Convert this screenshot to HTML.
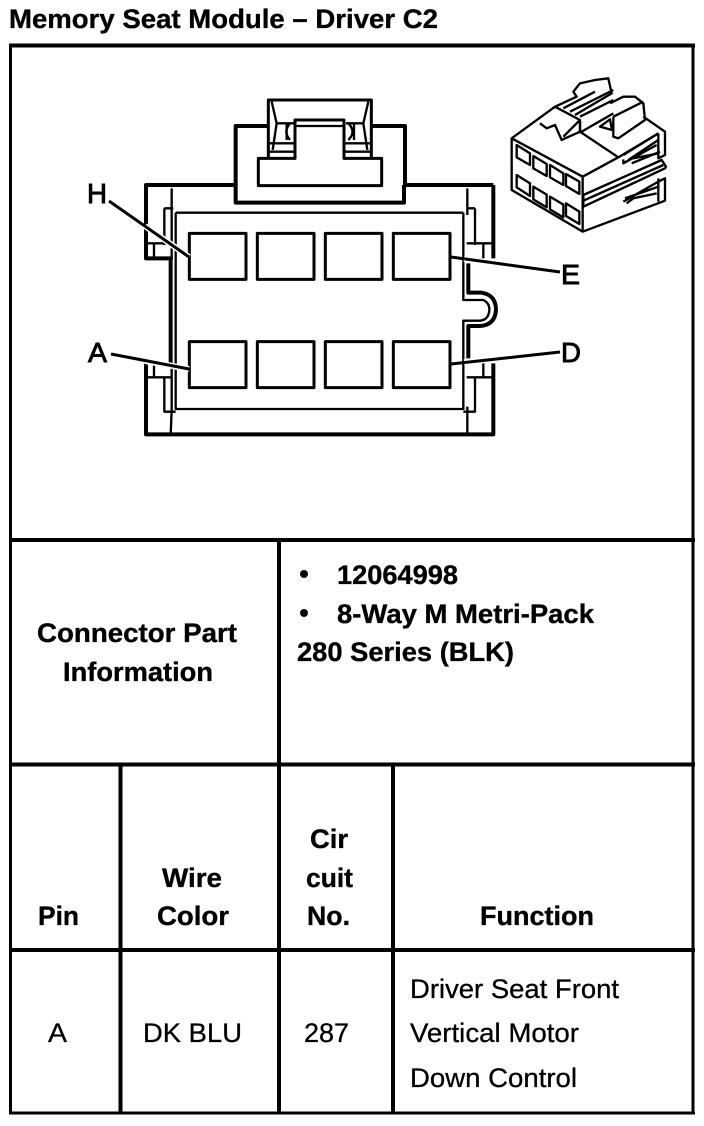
<!DOCTYPE html>
<html lang="en"><head><meta charset="utf-8"><title>Memory Seat Module – Driver C2</title>
<style>
html,body{margin:0;padding:0;background:#fff}
svg{display:block}
text{font-family:"Liberation Sans",Arial,sans-serif;fill:#000;stroke:#000}
.b{font-weight:700;font-size:27px;stroke-width:.35px}
.r{font-size:27px;stroke-width:.3px}
.l{font-size:28px;stroke-width:.9px}
</style></head>
<body>
<svg width="704" height="1126" viewBox="0 0 704 1126" xmlns="http://www.w3.org/2000/svg">
<rect width="704" height="1126" fill="#fff"/>
<text class="b" x="9" y="28" textLength="429" lengthAdjust="spacingAndGlyphs">Memory Seat Module – Driver C2</text>

<!-- table frame -->
<g stroke="#000" fill="none">
<path stroke-width="4" d="M9 45.500H695M9 540H695M9 764.500H695M9 950H695M279 540V1114M120.500 764V1114M393 764V1114"/>
<path stroke-width="3" d="M10.500 44V1114M693 44V1114M9 1113H695"/>
</g>

<!-- connector face -->
<g transform="translate(130,90) scale(.33333)" fill="none" stroke="#000" stroke-linejoin="round">
<g stroke-width="12">
<path d="M317 285H48V505H122V820"/>
<path d="M48 820V1033H1090V820"/>
<path d="M1090 285H825V108H722M418 108H317V285M317 285V338H822V285M1090 285V505"/>
<path d="M1015 520V608H1055Q1098 615 1098 660Q1095 705 1050 708H1015V805"/>
</g>
<g stroke-width="9">
<path d="M415 108V30H724V205M415 30V205"/>
<path d="M495 205H385V287H755V205H642V90H495Z"/>
<rect x="178" y="430" width="170" height="138"/><rect x="382" y="430" width="170" height="138"/>
<rect x="586" y="430" width="170" height="138"/><rect x="790" y="430" width="170" height="138"/>
<rect x="178" y="755" width="170" height="138"/><rect x="382" y="755" width="170" height="138"/>
<rect x="586" y="755" width="170" height="138"/><rect x="790" y="755" width="170" height="138"/>
</g>
<g stroke-width="7">
<path d="M1000 368V630H1060Q1080 640 1078 662Q1075 690 1050 692H1000V960"/>
<path d="M137 368H1000M137 368V957H1000"/>
<path d="M125 295V510M125 820V960L122 1033M1012 295V375M1012 950V1033"/>
<path d="M103 355V465M103 355H130M1035 355V465M1010 355H1035"/>
<path d="M48 460H125M72 460V505M1010 460H1085M1060 460V505"/>
<path d="M48 862H125M72 820V862M1010 862H1085M1060 820V862"/>
<path d="M103 862V965H137M1035 862V965H1000"/>
<path d="M425 35L440 100L428 180M715 35L700 100L712 180M440 100H492M648 100H700M418 160H495M645 160H722M418 185H495M645 185H722M470 100V150M672 100V150M480 100Q458 125 480 150M655 100Q680 125 655 150M495 108H645"/>
</g>
</g>

<!-- leaders -->
<g fill="none">
<g stroke="#fff" stroke-width="6">
<path d="M145 226L189 257M145 361L189 369M464 259L493 263M464 362L493 359"/>
</g>
<g stroke="#000" stroke-width="3">
<path d="M109 201L189 257M111 354L189 369M451 257L560 272M451 364L560 352"/>
</g>
</g>
<text class="l" x="87" y="203" textLength="20" lengthAdjust="spacingAndGlyphs">H</text>
<text class="l" x="88" y="362" textLength="19" lengthAdjust="spacingAndGlyphs">A</text>
<text class="l" x="561" y="284" textLength="19" lengthAdjust="spacingAndGlyphs">E</text>
<text class="l" x="561" y="362" textLength="20" lengthAdjust="spacingAndGlyphs">D</text>

<!-- isometric thumbnail -->
<g transform="translate(500,70) scale(.33333)" fill="none" stroke="#000" stroke-width="7" stroke-linejoin="round">
<path d="M35 205L248 320V485L35 360ZM248 320L355 262M248 485L495 392V325L475 335M35 205L165 110L240 150V185L185 210L165 165L140 175L120 160"/>
<path d="M240 185L355 262M240 150L190 200M430 140L495 185V255L475 265V190M355 262L475 190"/>
<path d="M165 110L230 80L220 65L240 40L285 30L325 25L335 70L225 135M190 115L285 65M210 125L340 60M240 140L340 90M240 155V190M245 185L340 130"/>
<path d="M340 140V200L355 205L435 150L430 100L405 80H370L330 100M340 140L430 95M300 170L330 148L336 180Z"/>
<path d="M50 225L90 250V285L50 262ZM100 258L140 282V318L100 295ZM150 285L190 310V345L150 322ZM198 312L238 335V372L198 348Z"/>
<path d="M50 315L90 340V378L50 352ZM100 350L140 374V412L100 388ZM150 380L190 404V442L150 418ZM198 400L238 425V462L198 438Z"/>
<path d="M250 375L485 270L498 290L495 295L250 410ZM250 392L490 285"/>
<path d="M370 255L475 190M370 268V280L470 225M385 270L475 210M395 280L480 245M400 265L475 250"/>
<path d="M370 395L475 335M375 385L475 350M380 400L400 385L470 370M475 325V395"/>
</g>

<!-- text -->
<text class="b" x="37" y="642" textLength="200" lengthAdjust="spacingAndGlyphs">Connector Part</text>
<text class="b" x="63" y="681" textLength="150" lengthAdjust="spacingAndGlyphs">Information</text>
<circle cx="304" cy="574" r="4" fill="#000"/><circle cx="304" cy="613" r="4" fill="#000"/>
<text class="b" x="337" y="584" textLength="121" lengthAdjust="spacingAndGlyphs">12064998</text>
<text class="b" x="337" y="623" textLength="257" lengthAdjust="spacingAndGlyphs">8-Way M Metri-Pack</text>
<text class="b" x="297" y="661" textLength="217" lengthAdjust="spacingAndGlyphs">280 Series (BLK)</text>

<text class="b" x="38" y="925" textLength="41" lengthAdjust="spacingAndGlyphs">Pin</text>
<text class="b" x="162" y="887" textLength="60" lengthAdjust="spacingAndGlyphs">Wire</text>
<text class="b" x="157" y="925" textLength="72" lengthAdjust="spacingAndGlyphs">Color</text>
<text class="b" x="310" y="848" textLength="38" lengthAdjust="spacingAndGlyphs">Cir</text>
<text class="b" x="306" y="887" textLength="47" lengthAdjust="spacingAndGlyphs">cuit</text>
<text class="b" x="307" y="925" textLength="43" lengthAdjust="spacingAndGlyphs">No.</text>
<text class="b" x="480" y="925" textLength="114" lengthAdjust="spacingAndGlyphs">Function</text>

<text class="r" x="48" y="1042" textLength="19" lengthAdjust="spacingAndGlyphs">A</text>
<text class="r" x="143" y="1042" textLength="99" lengthAdjust="spacingAndGlyphs">DK BLU</text>
<text class="r" x="304" y="1042" textLength="45" lengthAdjust="spacingAndGlyphs">287</text>
<text class="r" x="410" y="998" textLength="209" lengthAdjust="spacingAndGlyphs">Driver Seat Front</text>
<text class="r" x="410" y="1042" textLength="169" lengthAdjust="spacingAndGlyphs">Vertical Motor</text>
<text class="r" x="410" y="1087" textLength="167" lengthAdjust="spacingAndGlyphs">Down Control</text>
</svg>
</body></html>
